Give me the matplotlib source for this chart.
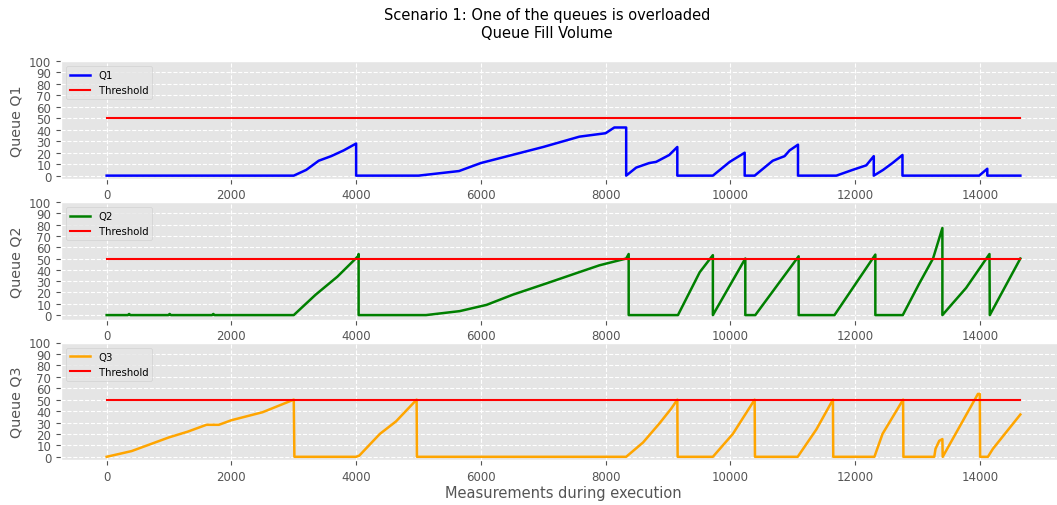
import matplotlib
matplotlib.use("Agg")
import matplotlib.pyplot as plt

plt.style.use("ggplot")

# Queue fill volume (index, value)
q1_x = [0, 3000, 3200, 3400, 3600, 3800, 4000, 4000, 5000, 5650, 6000, 6500, 7000,
        7580, 8000, 8140, 8330, 8330, 8490, 8700, 8810, 9020, 9150, 9150, 9720, 9990,
        10230, 10230, 10390, 10680, 10870, 10950, 11085, 11085, 11700, 11960, 12180,
        12300, 12300, 12450, 12600, 12760, 12760, 13990, 14120, 14120, 14650]
q1_y = [0, 0, 5, 13, 17, 22, 28, 0, 0, 4, 11, 18, 25,
        34, 37, 42, 42, 0, 7, 11, 12, 18, 25, 0, 0, 12,
        20, 0, 0, 13, 17, 22, 27, 0, 0, 5, 9,
        17, 0, 5, 11, 18, 0, 0, 6, 0, 0]

q2_x = [0, 340, 360, 380, 990, 1010, 1030, 1690, 1710, 1730, 3000, 3350, 3700, 4030,
        4040, 4040, 5120, 5660, 6090, 6510, 7050, 7580, 7900, 8330, 8370, 8370, 9160,
        9510, 9720, 9720, 10240, 10240, 10400, 11095, 11095, 11670, 12325, 12325,
        12765, 13030, 13250, 13400, 13400, 13780, 14155, 14160, 14650]
q2_y = [0, 0, 1, 0, 0, 1, 0, 0, 1, 0, 0, 18, 34, 52,
        54, 0, 0, 3.5, 9, 18, 28, 38, 44, 50, 54, 0, 0,
        38, 53, 0, 50, 0, 0, 52, 0, 0, 53.5, 0,
        0, 28, 50, 77, 0, 24, 54, 0, 50]

q3_x = [0, 400, 700, 1000, 1300, 1600, 1800, 2000, 2500, 3000, 3010, 4000, 4050,
        4380, 4640, 4970, 4975, 8330, 8600, 8860, 9050, 9150, 9155, 9720, 10040,
        10390, 10395, 11080, 11380, 11645, 11650, 12310, 12440, 12770, 12775, 13270,
        13290, 13350, 13400, 13405, 13970, 14000, 14005, 14130, 14210, 14650]
q3_y = [0, 5, 11, 17, 22, 28, 28, 32, 39, 50, 0, 0, 1,
        20, 31, 50, 0, 0, 12.5, 29, 42, 50, 0, 0, 20,
        50, 0, 0, 24, 50, 0, 0, 20, 50, 0, 0,
        7, 14, 15.5, 0, 55, 55, 0, 0, 7, 37]

threshold = 50
names = ["Q1", "Q2", "Q3"]
colors = ["blue", "green", "orange"]
ylims = [(-2.5, 100), (-3.9, 100), (-2.8, 100)]

fig = plt.figure(figsize=(10.57, 5.06), dpi=100)
W, H = 1057.0, 506.0
tops = [62, 203, 343.5]
panel_h = 117.5

series = [(q1_x, q1_y), (q2_x, q2_y), (q3_x, q3_y)]
for i, (xs, ys) in enumerate(series):
    ax = fig.add_axes([61 / W, 1 - (tops[i] + panel_h) / H, 1005 / W, panel_h / H])
    ax.plot(xs, ys, color=colors[i], lw=1.8, label=names[i])
    ax.plot([0, xs[-1]], [threshold, threshold], color="red", lw=1.5, label="Threshold")
    ax.set_xlim(-732, 15382)
    ax.set_ylim(*ylims[i])
    ax.set_yticks(range(0, 101, 10))
    ax.set_xticks(range(0, 14001, 2000))
    ax.tick_params(labelsize=8.5)
    ax.grid(True, color="white", linestyle="--", lw=0.8)
    ax.set_ylabel("Queue " + names[i], fontsize=10.3)
    ax.legend(loc="upper left", fontsize=7.3)
    if i == 2:
        ax.set_xlabel("Measurements during execution", fontsize=10.5, labelpad=2)

fig.suptitle("Scenario 1: One of the queues is overloaded\nQueue Fill Volume",
             x=547 / W, y=0.985, fontsize=10.5, linespacing=1.25)

fig.savefig("out.png", dpi=100)
